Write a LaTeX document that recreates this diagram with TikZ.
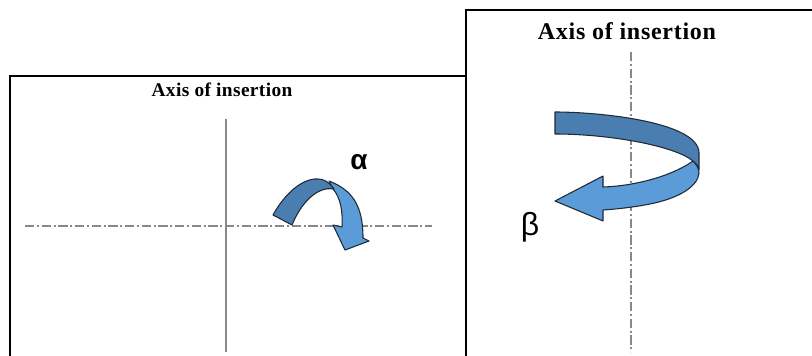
\documentclass[tikz,border=0pt]{standalone}
\usepackage{fontspec}
\setmainfont{Liberation Serif}
\setsansfont{Liberation Sans}
\usepackage{xcolor}
\definecolor{ink}{HTML}{1F2A36}
\definecolor{darkband}{HTML}{4A7EB0}
\definecolor{lightband}{HTML}{5B9BD8}
\definecolor{axisgray}{HTML}{888888}
\tikzset{
  panel/.style={draw=black, line width=1.6pt, line cap=rect},
  axisline/.style={draw=axisgray, line width=0.9pt},
  dashaxis/.style={axisline, dash pattern=on 7pt off 2pt on 1.5pt off 2pt},
  dband/.style={draw=ink, fill=darkband, line width=0.8pt, line join=round},
  lband/.style={draw=ink, fill=lightband, line width=0.8pt, line join=round},
  ttl/.style={font=\bfseries\fontsize{14.5}{16}\selectfont\addfontfeatures{LetterSpace=2}, inner sep=0pt},
  ttlbig/.style={font=\bfseries\fontsize{18}{20}\selectfont\addfontfeatures{LetterSpace=3}, inner sep=0pt},
  greek/.style={inner sep=0pt},
}
\begin{document}
\begin{tikzpicture}[x=0.75pt, y=-0.75pt]
\useasboundingbox (0,0) rectangle (812,356);
% panels
\draw[panel] (10,356) -- (10,76) -- (466,76);
\draw[panel] (466,356) -- (466,10) -- (812,10);
\node[ttl] (leftttl) at (222,90) {Axis of insertion};
\node[ttlbig] (rightttl) at (627,31) {Axis of insertion};
% axes
\coordinate (vtop) at (226,119);
\coordinate (vbot) at (226,352);
\coordinate (hl) at (25,226);
\coordinate (hr) at (432,226);
\coordinate (rtop) at (631,52);
\coordinate (rbot) at (631,352);
\draw[axisline] (vtop) -- (vbot);
\draw[dashaxis] (hl) -- (hr);
\draw[dashaxis] (rtop) -- (rbot);
% alpha arrow
\draw[lband] (329,181) .. controls (352,190) and (363,205) .. (363,238)
  -- (369,241) -- (345,250) -- (333,225) -- (342,227)
  .. controls (343,210) and (340,197) .. (333,189) -- cycle;
\draw[dband] (273,215) .. controls (285,193) and (303,178) .. (318,179)
  .. controls (324,179) and (329,182) .. (334,189)
  .. controls (317,186) and (301,203) .. (292,225) -- cycle;
\node[greek, font=\sffamily\bfseries\fontsize{21}{23}\selectfont] (alpha) at (359,162) {α};
% beta arrow
\draw[lband] (693,161) .. controls (696,164) and (699,168) .. (699,173)
  .. controls (698,186) and (680,198) .. (650,204)
  .. controls (635,207) and (618,209) .. (603,210) -- (603,221) -- (555,201)
  -- (603,176) -- (603,187)
  .. controls (635,186) and (672,176) .. (693,161) -- cycle;
\draw[dband] (555,112) .. controls (600,112) and (699,122) .. (699,153)
  -- (699,170) .. controls (698,165) and (696,164) .. (693,161)
  .. controls (675,146) and (610,134) .. (555,134) -- cycle;
\node[greek, font=\sffamily\fontsize{24}{26}\selectfont] (beta) at (530,227) {β};
\end{tikzpicture}
\end{document}
